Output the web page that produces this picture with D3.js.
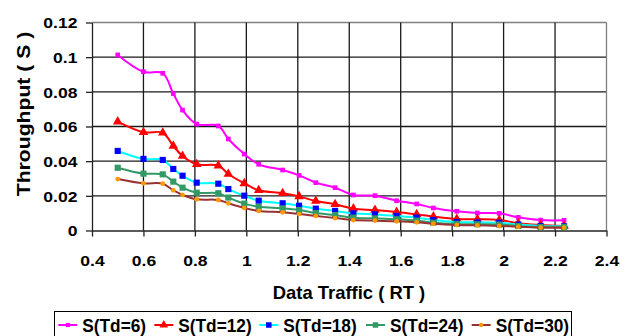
<!DOCTYPE html>
<html>
<head>
<meta charset="utf-8">
<script src="https://cdn.jsdelivr.net/npm/d3@7"></script>
<style>
  body { margin: 0; background: #fff; }
  text { font-family: Arial, "Liberation Sans", sans-serif; font-weight: bold; fill: #000; }
</style>
</head>
<body>
<script>
// data
var traffic = [0.5, 0.6, 0.675, 0.716, 0.752, 0.807, 0.891, 0.93, 0.992, 1.048, 1.141, 1.205, 1.27,
  1.345, 1.416, 1.5, 1.584, 1.662, 1.727, 1.818, 1.898, 1.983, 2.057, 2.144, 2.235];

var sTd6 = [0.1013, 0.0916, 0.0907, 0.079, 0.0695, 0.0614, 0.0603, 0.0528, 0.0441, 0.0382, 0.0349, 0.0318, 0.0276,
  0.0247, 0.0205, 0.0201, 0.0172, 0.0153, 0.013, 0.0111, 0.0101, 0.0099, 0.0076, 0.006, 0.0059];
var sTd12 = [0.0628, 0.0567, 0.0564, 0.0488, 0.043, 0.0382, 0.0374, 0.0326, 0.0272, 0.0232, 0.0215, 0.0197, 0.017,
  0.0151, 0.0126, 0.0118, 0.0107, 0.0093, 0.008, 0.0066, 0.0065, 0.0061, 0.0042, 0.0032, 0.0026];
var sTd18 = [0.0459, 0.0413, 0.0407, 0.0355, 0.0316, 0.0276, 0.027, 0.0239, 0.0201, 0.0172, 0.0157, 0.0143, 0.0126,
  0.0113, 0.0099, 0.0093, 0.0084, 0.0074, 0.006, 0.0049, 0.0047, 0.0045, 0.0034, 0.0026, 0.0024];
var sTd24 = [0.0362, 0.0328, 0.0324, 0.0282, 0.0247, 0.0218, 0.0215, 0.019, 0.0155, 0.0137, 0.0128, 0.0118, 0.0101,
  0.0089, 0.0074, 0.007, 0.0065, 0.0057, 0.0045, 0.0038, 0.0036, 0.0034, 0.0026, 0.002, 0.002];
var sTd30 = [0.0297, 0.0272, 0.027, 0.0232, 0.0205, 0.018, 0.0176, 0.0157, 0.013, 0.0113, 0.0105, 0.0095, 0.0084,
  0.0072, 0.006, 0.0057, 0.0053, 0.0047, 0.0039, 0.0032, 0.003, 0.0026, 0.0022, 0.0016, 0.0016];

var seriesNames = ['S(Td=6)', 'S(Td=12)', 'S(Td=18)', 'S(Td=24)', 'S(Td=30)'];
var xTicks = [0.4, 0.6, 0.8, 1, 1.2, 1.4, 1.6, 1.8, 2, 2.2, 2.4];
var yTicks = [0, 0.02, 0.04, 0.06, 0.08, 0.1, 0.12];

// styling for each series (line colour, marker shape / fill / size)
var styles = [
  { line: '#ff00ff', fill: '#ff00ff', shape: d3.symbolSquare, size: 22 },
  { line: '#ff0000', fill: '#ff0000', shape: d3.symbolTriangle, size: 40 },
  { line: '#00ffff', fill: '#0000ff', shape: d3.symbolSquare, size: 38 },
  { line: '#339966', fill: '#339966', shape: d3.symbolSquare, size: 38 },
  { line: '#993333', fill: '#ff9900', shape: d3.symbolCircle, size: 18 }
];
var allValues = [sTd6, sTd12, sTd18, sTd24, sTd30];

var W = 628, H = 336;
var svg = d3.select('body').append('svg')
  .attr('width', W)
  .attr('height', H);

var xScale = d3.scaleLinear().domain([0.4, 2.4]).range([92, 606.5]);
var yScale = d3.scaleLinear().domain([0, 0.12]).range([230.5, 22.5]);

// gridlines (top and right edge are grey in the original)
svg.append('g')
  .selectAll('line')
  .data(yTicks.slice(1))
  .enter().append('line')
  .attr('x1', xScale(0.4)).attr('x2', xScale(2.4))
  .attr('y1', function(d) { return yScale(d); })
  .attr('y2', function(d) { return yScale(d); })
  .attr('stroke', function(d) { return d === 0.12 ? '#808080' : '#1a1a1a'; })
  .attr('stroke-width', 1.3);

svg.append('g')
  .selectAll('line')
  .data(xTicks.slice(1))
  .enter().append('line')
  .attr('y1', yScale(0)).attr('y2', yScale(0.12))
  .attr('x1', function(d) { return xScale(d); })
  .attr('x2', function(d) { return xScale(d); })
  .attr('stroke', function(d) { return d === 2.4 ? '#808080' : '#1a1a1a'; })
  .attr('stroke-width', 1.3);

// axes (labels added by hand so they can be stretched like the original)
var xAxis = svg.append('g')
  .attr('transform', `translate(0, ${yScale(0)})`)
  .call(d3.axisBottom(xScale).tickValues(xTicks).tickSize(6).tickSizeOuter(0).tickFormat(''));
var yAxis = svg.append('g')
  .attr('transform', `translate(${xScale(0.4)}, 0)`)
  .call(d3.axisLeft(yScale).tickValues(yTicks).tickSize(6).tickSizeOuter(0).tickFormat(''));
svg.selectAll('.domain, .tick line').attr('stroke', '#222').attr('stroke-width', 1.3);

// tick labels, a bit wider than plain Arial bold
xAxis.selectAll('.tick').append('text')
  .attr('transform', 'translate(0, 35) scale(1.17, 1)')
  .attr('text-anchor', 'middle')
  .style('font-size', '15px')
  .text(function(d) { return d; });

yAxis.selectAll('.tick').append('text')
  .attr('transform', 'translate(-14.5, 5.3) scale(1.17, 1)')
  .attr('text-anchor', 'end')
  .style('font-size', '15px')
  .text(function(d) { return d; });

// axis titles
svg.append('text')
  .attr('transform', 'translate(349, 298.5) scale(0.97, 1)')
  .attr('text-anchor', 'middle')
  .style('font-size', '19px')
  .text('Data Traffic ( RT )');

svg.append('text')
  .attr('transform', 'translate(30, 114) rotate(-90) scale(1.21, 1)')
  .attr('text-anchor', 'middle')
  .style('font-size', '17.5px')
  .text('Throughput ( S )');

// series: smoothed lines with markers
var line = d3.line()
  .x(function(d) { return xScale(d[0]); })
  .y(function(d) { return yScale(d[1]); })
  .curve(d3.curveCatmullRom.alpha(0.5));

allValues.forEach(function(vals, i) {
  var pts = traffic.map(function(t, j) { return [t, vals[j]]; });
  var st = styles[i];
  var grp = svg.append('g');
  grp.append('path')
    .datum(pts)
    .attr('fill', 'none')
    .attr('stroke', st.line)
    .attr('stroke-width', 2)
    .attr('d', line);
  grp.selectAll('path.m')
    .data(pts)
    .enter().append('path')
    .attr('class', 'm')
    .attr('transform', function(d) { return `translate(${xScale(d[0])}, ${yScale(d[1])})`; })
    .attr('d', d3.symbol().type(st.shape).size(st.size))
    .attr('fill', st.fill);
});

// legend box at the bottom (runs off the picture like the original)
var legend = svg.append('g');
legend.append('rect')
  .attr('x', 54.5).attr('y', 311.5)
  .attr('width', 517).attr('height', 40)
  .attr('fill', '#fff')
  .attr('stroke', '#000')
  .attr('stroke-width', 1);

var legendX = [82.3, 178.3, 283.3, 390, 495.7];
seriesNames.forEach(function(name, i) {
  var st = styles[i];
  var tx = legendX[i];
  legend.append('line')
    .attr('x1', tx - 24).attr('x2', tx - 5)
    .attr('y1', 325).attr('y2', 325)
    .attr('stroke', st.line)
    .attr('stroke-width', 2);
  legend.append('path')
    .attr('transform', `translate(${tx - 14.5}, 325)`)
    .attr('d', d3.symbol().type(st.shape).size(st.size * 0.8))
    .attr('fill', st.fill);
  legend.append('text')
    .attr('transform', `translate(${tx}, 332) scale(0.96, 1)`)
    .style('font-size', '18px')
    .text(name);
});
</script>
</body>
</html>
